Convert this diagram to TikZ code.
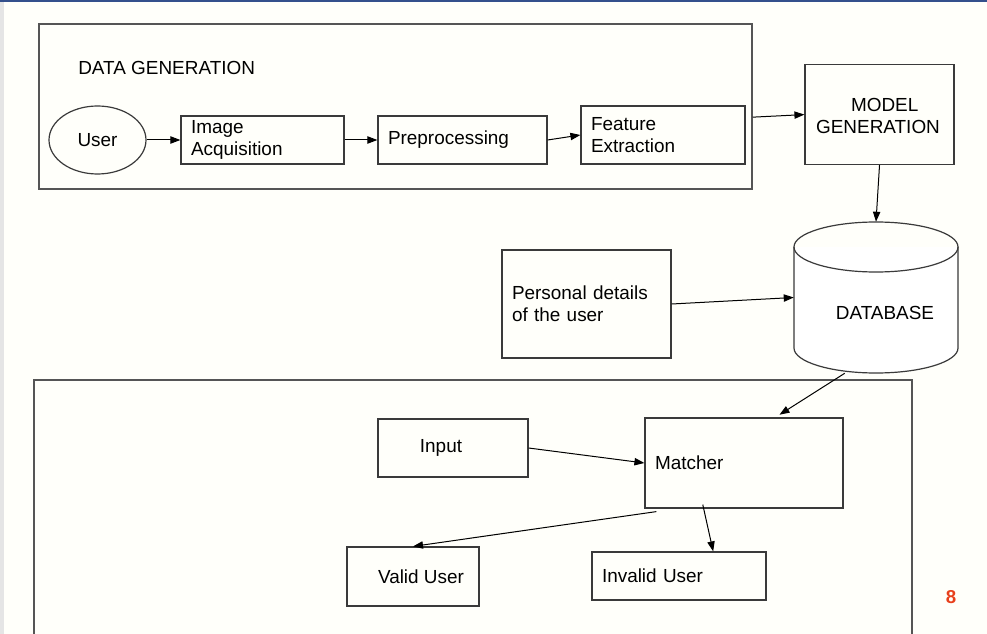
\documentclass[tikz,border=0pt]{standalone}
\usepackage{fontspec}
\setmainfont{Liberation Sans}
\usetikzlibrary{arrows.meta,calc,fit,shapes.geometric}
\definecolor{edge}{HTML}{3A3A3A}
\definecolor{outer}{HTML}{555555}
\definecolor{topline}{HTML}{34508C}
\definecolor{pagenum}{HTML}{E8401C}
\newcommand{\uu}{0.75pt}
\tikzset{
  x=0.75pt, y=-0.75pt,
  txt/.style={font=\fontsize{14.2}{16.5}\selectfont, text=black},
  box/.style={draw=edge, line width=0.9pt, rectangle, txt, inner sep=0pt},
  outerbox/.style={draw=outer, line width=1.1pt, rectangle, inner sep=0pt},
  conn/.style={draw=black, line width=0.75pt, -{Triangle[length=7.5pt,width=5.5pt]}},
}
\begin{document}
\begin{tikzpicture}
\useasboundingbox (0,0) rectangle (987,634);
\fill[white!98!yellow] (0,0) rectangle (987,634);
\fill[black!10] (0,0) rectangle (4,634);
\fill[topline] (0,0) rectangle (987,2.5);

% data generation frame
\node[outerbox, fit={(39,24) (752,189)}] (dg) {};
\node[txt, anchor=west, inner sep=0pt] (dglabel) at (78,68) {DATA GENERATION};

\node[draw=edge, line width=0.9pt, ellipse, minimum width=97*\uu, minimum height=68*\uu, txt, inner sep=0pt] (user) at (97.5,140) {User};
\node[box, minimum width=163*\uu, minimum height=48*\uu, text width=143*\uu, align=left] (img) at (262.5,140) {Image\\Acquisition};
\node[box, minimum width=169*\uu, minimum height=48*\uu, text width=149*\uu, align=left] (pre) at (462.5,140) {Preprocessing};
\node[box, minimum width=164*\uu, minimum height=58*\uu, text width=144*\uu, align=left] (feat) at (663,135) {Feature\\Extraction};

\node[box, minimum width=149*\uu, minimum height=100*\uu, align=center, anchor=north] (model) at (879.5,64) {};
\node[txt, align=center] (modeltxt) at (878,116) {\hspace*{10pt}MODEL\\GENERATION};

% database cylinder
\node[fit={(794,222) (958,373)}, inner sep=0pt] (db) {};
\draw[edge, line width=0.9pt, fill=white] (794,247) -- (794,348) arc[start angle=180, end angle=0, x radius=82, y radius=25] -- (958,247);
\draw[edge, line width=0.9pt] (876,247) ellipse[x radius=82, y radius=25];
\node[txt] (dbtxt) at (885,313) {DATABASE};

\node[box, minimum width=169*\uu, minimum height=108*\uu, text width=149*\uu, align=left] (pd) at (586.5,304) {Personal details\\of the user};

% bottom frame
\node[outerbox, fit={(34,380) (912,650)}] (bot) {};
\node[box, minimum width=150*\uu, minimum height=58*\uu] (inp) at (453,448) {Input\hspace*{18pt}};
\node[box, minimum width=198*\uu, minimum height=90*\uu, text width=178*\uu, align=left] (mat) at (744,463) {Matcher};
\node[box, minimum width=132*\uu, minimum height=59*\uu] (val) at (413,576.5) {\hspace*{12pt}Valid User};
\node[box, minimum width=174*\uu, minimum height=48*\uu, text width=154*\uu, align=left] (inv) at (679,576) {Invalid User};

\node[font=\fontsize{14}{16}\bfseries, text=pagenum] (pg) at (951,597) {8};

% connectors
\draw[conn] (user.east) -- (img.west);
\draw[conn] (img.east) -- (pre.west);
\draw[conn] (pre.east) -- (feat.west);
\draw[conn] ($(dg.north east)!0.564!(dg.south east)$) -- (model.west);
\draw[conn] (model.south) -- (db.north);
\draw[conn] (pd.east) -- (db.west);
\draw[conn, shorten >=5*\uu] ($(db.south west)!0.31!(db.south east)$) -- ($(mat.north west)!0.657!(mat.north east)$);
\draw[conn] (inp.east) -- (mat.west);
\draw[conn] ([yshift=-2.25pt]$(mat.south west)!0.06!(mat.south east)$) -- (val.north);
\draw[conn] ([yshift=3pt]$(mat.south west)!0.293!(mat.south east)$) -- ($(inv.north west)!0.695!(inv.north east)$);
\end{tikzpicture}
\end{document}
